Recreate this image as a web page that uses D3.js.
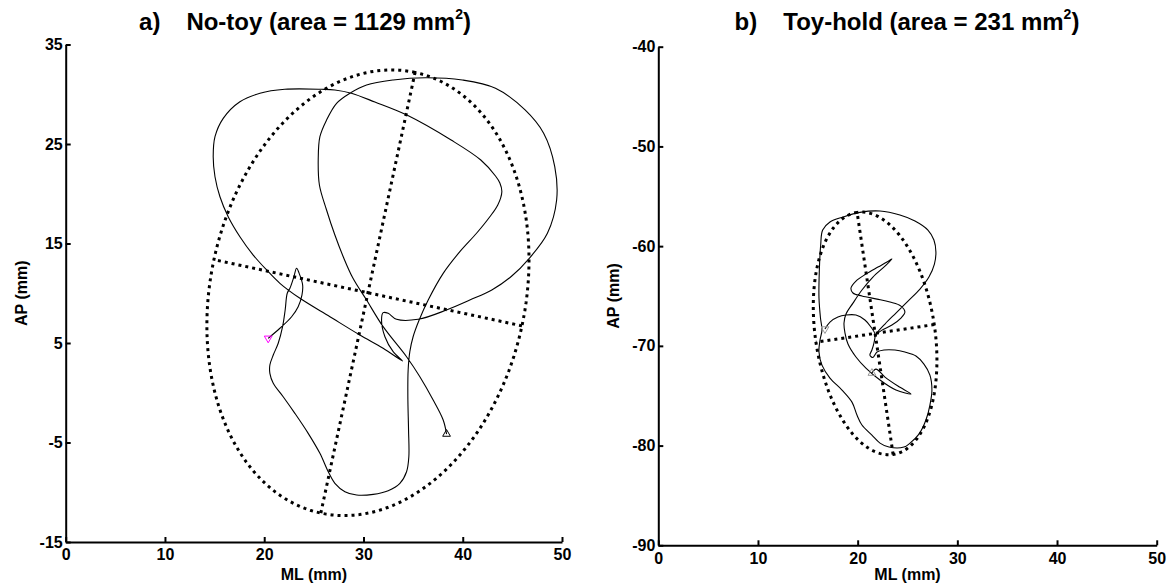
<!DOCTYPE html>
<html>
<head>
<meta charset="utf-8">
<script src="https://cdnjs.cloudflare.com/ajax/libs/d3/7.8.5/d3.min.js"></script>
<style>
body { margin: 0; background: #fff; }
svg text { font-family: "Liberation Sans", Arial, Helvetica, sans-serif; font-weight: bold; fill: #000; }
</style>
</head>
<body>
<div id="chart"></div>
<script>
// tick labels
var mlTicks = [0, 10, 20, 30, 40, 50];
var apTicksNoToy = [-15, -5, 5, 15, 25, 35];
var apTicksToyHold = [-90, -80, -70, -60, -50, -40];

var panelTags = ["a)", "b)"];
var conditions = ["No-toy", "Toy-hold"];
var areas = [1129, 231];

// centre of pressure path, no-toy (mm)
var noToyML = [20.40, 21.58, 22.76, 23.42, 23.80, 23.87, 23.52, 23.26, 22.99, 22.59,
	22.32, 22.11, 21.85, 21.41, 20.91, 20.57, 20.57, 20.91, 21.91, 23.09,
	24.43, 25.61, 26.45, 27.12, 28.13, 29.31, 30.98, 32.49, 33.67, 34.34,
	34.57, 34.54, 34.47, 34.50, 34.67, 35.00, 35.61, 36.52, 38.03, 39.71,
	41.39, 42.73, 43.53, 43.94, 43.74, 43.30, 41.82, 38.83, 34.37, 31.15,
	28.78, 27.12, 25.80, 22.07, 19.57, 17.55, 15.87, 15.04, 14.86, 15.04,
	15.54, 16.37, 17.55, 18.89, 20.24, 21.58, 23.60, 26.62, 29.64, 31.98,
	33.94, 32.99, 32.16, 31.82, 31.98, 32.49, 33.33, 35.51, 38.37, 40.71,
	42.93, 44.94, 46.66, 48.53, 49.46, 49.27, 48.15, 46.28, 43.30, 39.96,
	36.23, 32.99, 30.31, 28.63, 27.29, 26.28, 25.61, 25.44, 25.56, 26.28,
	27.12, 27.96, 28.93, 30.31, 31.98, 34.34, 35.68, 37.02, 38.03, 38.37];
var noToyAP = [5.47, 6.48, 7.64, 8.65, 9.82, 10.83, 12.00, 12.51, 11.66, 10.50,
	10.00, 8.32, 6.64, 4.97, 3.79, 2.79, 1.95, 0.95, -0.40, -2.07,
	-4.08, -6.09, -7.94, -9.10, -9.94, -10.28, -10.21, -9.84, -9.10, -7.94,
	-6.43, -3.74, -0.40, 2.29, 4.13, 5.63, 7.31, 9.32, 12.00, 14.18,
	16.03, 17.69, 18.87, 20.21, 21.08, 21.78, 23.39, 25.40, 27.91, 29.22,
	30.10, 30.43, 30.50, 30.50, 30.10, 29.25, 27.58, 25.73, 23.72, 21.71,
	19.70, 17.69, 15.68, 13.84, 12.34, 11.00, 9.49, 7.64, 5.80, 4.47,
	3.19, 4.13, 5.63, 7.31, 8.05, 7.98, 7.38, 7.38, 8.32, 9.32,
	10.33, 11.73, 13.46, 16.03, 19.37, 22.72, 26.08, 28.42, 30.60, 31.43,
	31.66, 31.43, 30.93, 30.10, 29.09, 27.41, 25.73, 23.39, 20.88, 18.37,
	15.85, 13.67, 11.53, 9.32, 6.64, 3.62, 1.61, -0.73, -2.74, -4.15];

// centre of pressure path, toy-hold (mm)
var toyHoldML = [16.72, 17.22, 18.02, 18.83, 19.83, 20.73, 21.33, 21.74,
	21.63, 21.43, 21.23, 21.53, 21.94,
	22.64, 23.74, 24.74, 25.85, 26.65, 27.25, 27.45,
	27.25, 26.85, 26.15, 25.25, 24.64, 23.14, 22.24, 21.43, 20.43, 19.93,
	19.43, 18.43, 17.22, 16.42, 16.12, 16.22, 16.42, 16.27, 16.12, 16.15,
	16.29, 16.49, 17.22, 18.53, 20.23, 22.24, 24.24, 25.75, 27.05, 27.65,
	27.85, 27.70, 27.15, 26.25, 25.05, 23.84, 22.74, 21.84,
	22.44, 23.44, 24.34, 24.74, 24.34, 23.24, 21.94, 20.43, 19.53, 19.33, 19.83, 20.83, 22.04, 22.94, 23.44,
	22.74, 21.53, 20.43, 19.53, 18.83, 18.63, 18.73, 19.03, 19.83, 20.83, 22.24, 23.84, 25.35, 24.04, 22.74, 21.84, 21.43];
var toyHoldAP = [-68.31, -67.61, -67.11, -66.91, -66.91, -67.41, -68.11, -68.82,
	-69.72, -70.42, -70.92, -71.17, -70.62,
	-70.42, -70.42, -70.62, -71.02, -71.83, -72.93, -74.43,
	-75.94, -77.44, -78.85, -79.75, -80.15, -80.15, -79.75, -78.95, -77.94, -76.94,
	-75.64, -74.43, -73.23, -71.93, -70.62, -69.42, -68.42, -67.21, -65.21, -62.60,
	-59.89, -58.39, -57.58, -57.08, -56.61, -56.48, -56.88, -57.48, -58.39, -59.39,
	-60.59, -61.80, -63.10, -64.30, -65.51, -66.71, -67.81, -68.82,
	-68.42, -67.91, -67.21, -66.61, -66.01, -65.61, -65.31, -65.00, -64.70, -64.20, -63.50, -62.80, -62.10, -61.59, -61.29,
	-62.00, -63.10, -64.40, -65.71, -66.81, -67.71, -68.72, -69.82, -71.12, -72.23, -73.43, -74.43, -74.83, -74.03, -73.13, -72.33, -72.73];

// 95% ellipse of each condition
var ellipseML = [30.45, 21.75];
var ellipseAP = [10.05, -68.75];
var ellipseMajor = [22.65, 12.27];
var ellipseMinor = [15.87, 6.0];
var ellipseAngle = [77.9, 98.46];

var width = 1171, height = 588;
var boxes = [
	{left: 65.7, right: 562, top: 44.5, bottom: 542, label: 27, title: 305},
	{left: 658.3, right: 1156.7, top: 46.7, bottom: 545.3, label: 619, title: 907}
];
var startColor = ["#ff00ff", "#999999"],
	endColor = ["#000000", "#999999"];

var svg = d3.select("#chart").append("svg")
	.attr("width", width)
	.attr("height", height);

function drawPanel(i, ml, ap, apTicks) {
	var box = boxes[i];
	var x = d3.scaleLinear().domain([0, 50]).range([box.left, box.right]);
	var y = d3.scaleLinear().domain([apTicks[0], apTicks[apTicks.length - 1]]).range([box.bottom, box.top]);
	var g = svg.append("g");

	// ellipse and its axes
	var cx = ellipseML[i], cy = ellipseAP[i],
		a = ellipseMajor[i], b = ellipseMinor[i],
		th = ellipseAngle[i] * Math.PI / 180,
		ux = Math.cos(th), uy = Math.sin(th);
	var ring = d3.range(0, 360, 2).map(function(t) {
		t = t * Math.PI / 180;
		return [cx + a * Math.cos(t) * ux - b * Math.sin(t) * uy,
			cy + a * Math.cos(t) * uy + b * Math.sin(t) * ux];
	});
	var axesLines = [
		[[cx - a * ux, cy - a * uy], [cx + a * ux, cy + a * uy]],
		[[cx + b * uy, cy - b * ux], [cx - b * uy, cy + b * ux]]
	];
	var line = d3.line().x(function(d) { return x(d[0]); }).y(function(d) { return y(d[1]); });

	g.append("path")
		.attr("d", line.curve(d3.curveLinearClosed)(ring))
		.attr("fill", "none")
		.attr("stroke", "#000")
		.attr("stroke-width", 3)
		.attr("stroke-dasharray", "3 4");
	line.curve(d3.curveLinear);
	g.selectAll(".ellaxis").data(axesLines).enter().append("path")
		.attr("class", "ellaxis")
		.attr("d", line)
		.attr("fill", "none")
		.attr("stroke", "#000")
		.attr("stroke-width", 3)
		.attr("stroke-dasharray", "3 4");

	// trace
	var pts = d3.zip(ml, ap);
	g.append("path")
		.attr("d", d3.line().x(function(d) { return x(d[0]); }).y(function(d) { return y(d[1]); })
			.curve(d3.curveCatmullRom.alpha(0.5))(pts))
		.attr("fill", "none")
		.attr("stroke", "#000")
		.attr("stroke-width", 1.1);

	var tri = d3.symbol().type(d3.symbolTriangle).size(26);
	var first = pts[0], last = pts[pts.length - 1];
	g.append("path").attr("d", tri)
		.attr("transform", "translate(" + x(first[0]) + "," + y(first[1]) + ") rotate(180)")
		.attr("fill", "none").attr("stroke", startColor[i]).attr("stroke-width", 1);
	g.append("path").attr("d", tri)
		.attr("transform", "translate(" + x(last[0]) + "," + y(last[1]) + ")")
		.attr("fill", "none").attr("stroke", endColor[i]).attr("stroke-width", 1);

	// axes
	var fmt = function(d) { return String(d); };
	var gx = g.append("g")
		.attr("transform", "translate(0," + box.bottom + ")")
		.call(d3.axisBottom(x).tickValues(mlTicks).tickFormat(fmt).tickSizeInner(-5).tickSizeOuter(0).tickPadding(7));
	var gy = g.append("g")
		.attr("transform", "translate(" + box.left + ",0)")
		.call(d3.axisLeft(y).tickValues(apTicks).tickFormat(fmt).tickSizeInner(-5).tickSizeOuter(0).tickPadding(3));
	[gx, gy].forEach(function(ax) {
		ax.attr("font-size", 16).attr("font-family", null);
		ax.select(".domain").attr("stroke", "#000").attr("stroke-width", 2);
		ax.selectAll(".tick line").attr("stroke", "#000").attr("stroke-width", 2);
	});

	g.append("text")
		.attr("x", (box.left + box.right) / 2)
		.attr("y", 580)
		.attr("text-anchor", "middle")
		.attr("font-size", 16)
		.text("ML (mm)");
	g.append("text")
		.attr("transform", "translate(" + box.label + "," + (box.top + box.bottom) / 2 + ") rotate(-90)")
		.attr("text-anchor", "middle")
		.attr("font-size", 16)
		.text("AP (mm)");

	var title = g.append("text")
		.attr("x", box.title)
		.attr("y", 30)
		.attr("text-anchor", "middle")
		.attr("font-size", 24);
	title.append("tspan").text(panelTags[i]);
	title.append("tspan").attr("dx", 26).text(conditions[i] + " (area = " + areas[i] + " mm");
	title.append("tspan").attr("dy", -11).attr("font-size", 14).text("2");
	title.append("tspan").attr("dy", 11).text(")");
}

drawPanel(0, noToyML, noToyAP, apTicksNoToy);
drawPanel(1, toyHoldML, toyHoldAP, apTicksToyHold);
</script>
</body>
</html>
